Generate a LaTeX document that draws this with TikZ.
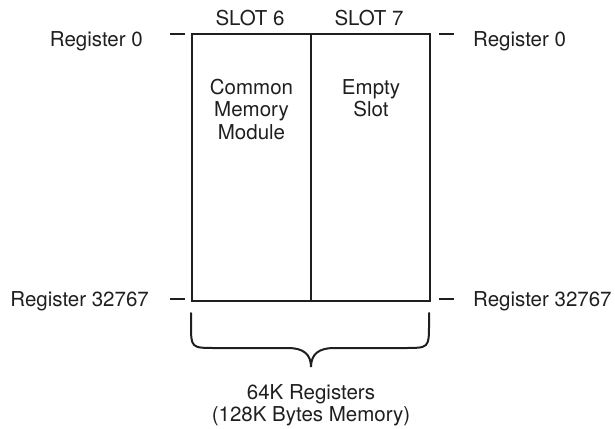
\documentclass[tikz,border=0pt]{standalone}
\usepackage{fontspec}
\setmainfont{TeX Gyre Heros}
\begin{document}
\begin{tikzpicture}[x=1pt,y=-1pt,
  ink/.style={draw=black!88, line width=2pt},
  lbl/.style={inner sep=0pt, text=black!88, font=\fontsize{20.5}{22.5}\selectfont}]
\useasboundingbox (0,0) rectangle (615,428);
% box corners
\coordinate (tl) at (192,34.5);
\coordinate (tr) at (429.5,34.5);
\coordinate (bl) at (192,300.5);
\coordinate (br) at (429.5,300.5);
\coordinate (tm) at (311,34.5);
\coordinate (bm) at (311,300.5);
\draw[ink] (tl) rectangle (br);
\draw[ink] (tm) -- (bm);
% ticks
\coordinate (t1a) at (170,34.5); \coordinate (t1b) at (185,34.5);
\coordinate (t2a) at (439,34.5); \coordinate (t2b) at (454,34.5);
\coordinate (t3a) at (170,299); \coordinate (t3b) at (185,299);
\coordinate (t4a) at (439,299); \coordinate (t4b) at (454,299);
\draw[ink] (t1a) -- (t1b);
\draw[ink] (t2a) -- (t2b);
\draw[ink] (t3a) -- (t3b);
\draw[ink] (t4a) -- (t4b);
% labels
\node[lbl, anchor=base east] (r0l) at (143,46) {Register 0};
\node[lbl, anchor=base west] (r0r) at (473,46) {Register 0};
\node[lbl, anchor=base east] (r1l) at (149,306.7) {Register 32767};
\node[lbl, anchor=base west] (r1r) at (473,306.7) {Register 32767};
\node[lbl, anchor=base] (s6) at (250,26) {SLOT 6};
\node[lbl, anchor=base] (s7) at (369,26) {SLOT 7};
\node[lbl, anchor=base] (c1) at (251.5,94) {Common};
\node[lbl, anchor=base] (c2) at (251.5,116.5) {Memory};
\node[lbl, anchor=base] (c3) at (251.5,139) {Module};
\node[lbl, anchor=base] (e1) at (371,94) {Empty};
\node[lbl, anchor=base] (e2) at (371,116.5) {Slot};
% brace
\draw[ink, line cap=round] (191,313) -- (191,324) .. controls (191,348) .. (216,348) -- (288,348)
  .. controls (303,348) and (311,354) .. (311,367)
  .. controls (311,354) and (319,348) .. (334,348) -- (404,348)
  .. controls (429,348) .. (429,324) -- (429,313);
\node[lbl, anchor=base] (b1) at (311,399) {64K Registers};
\node[lbl, anchor=base] (b2) at (311,421.5) {(128K Bytes Memory)};
\end{tikzpicture}
\end{document}
